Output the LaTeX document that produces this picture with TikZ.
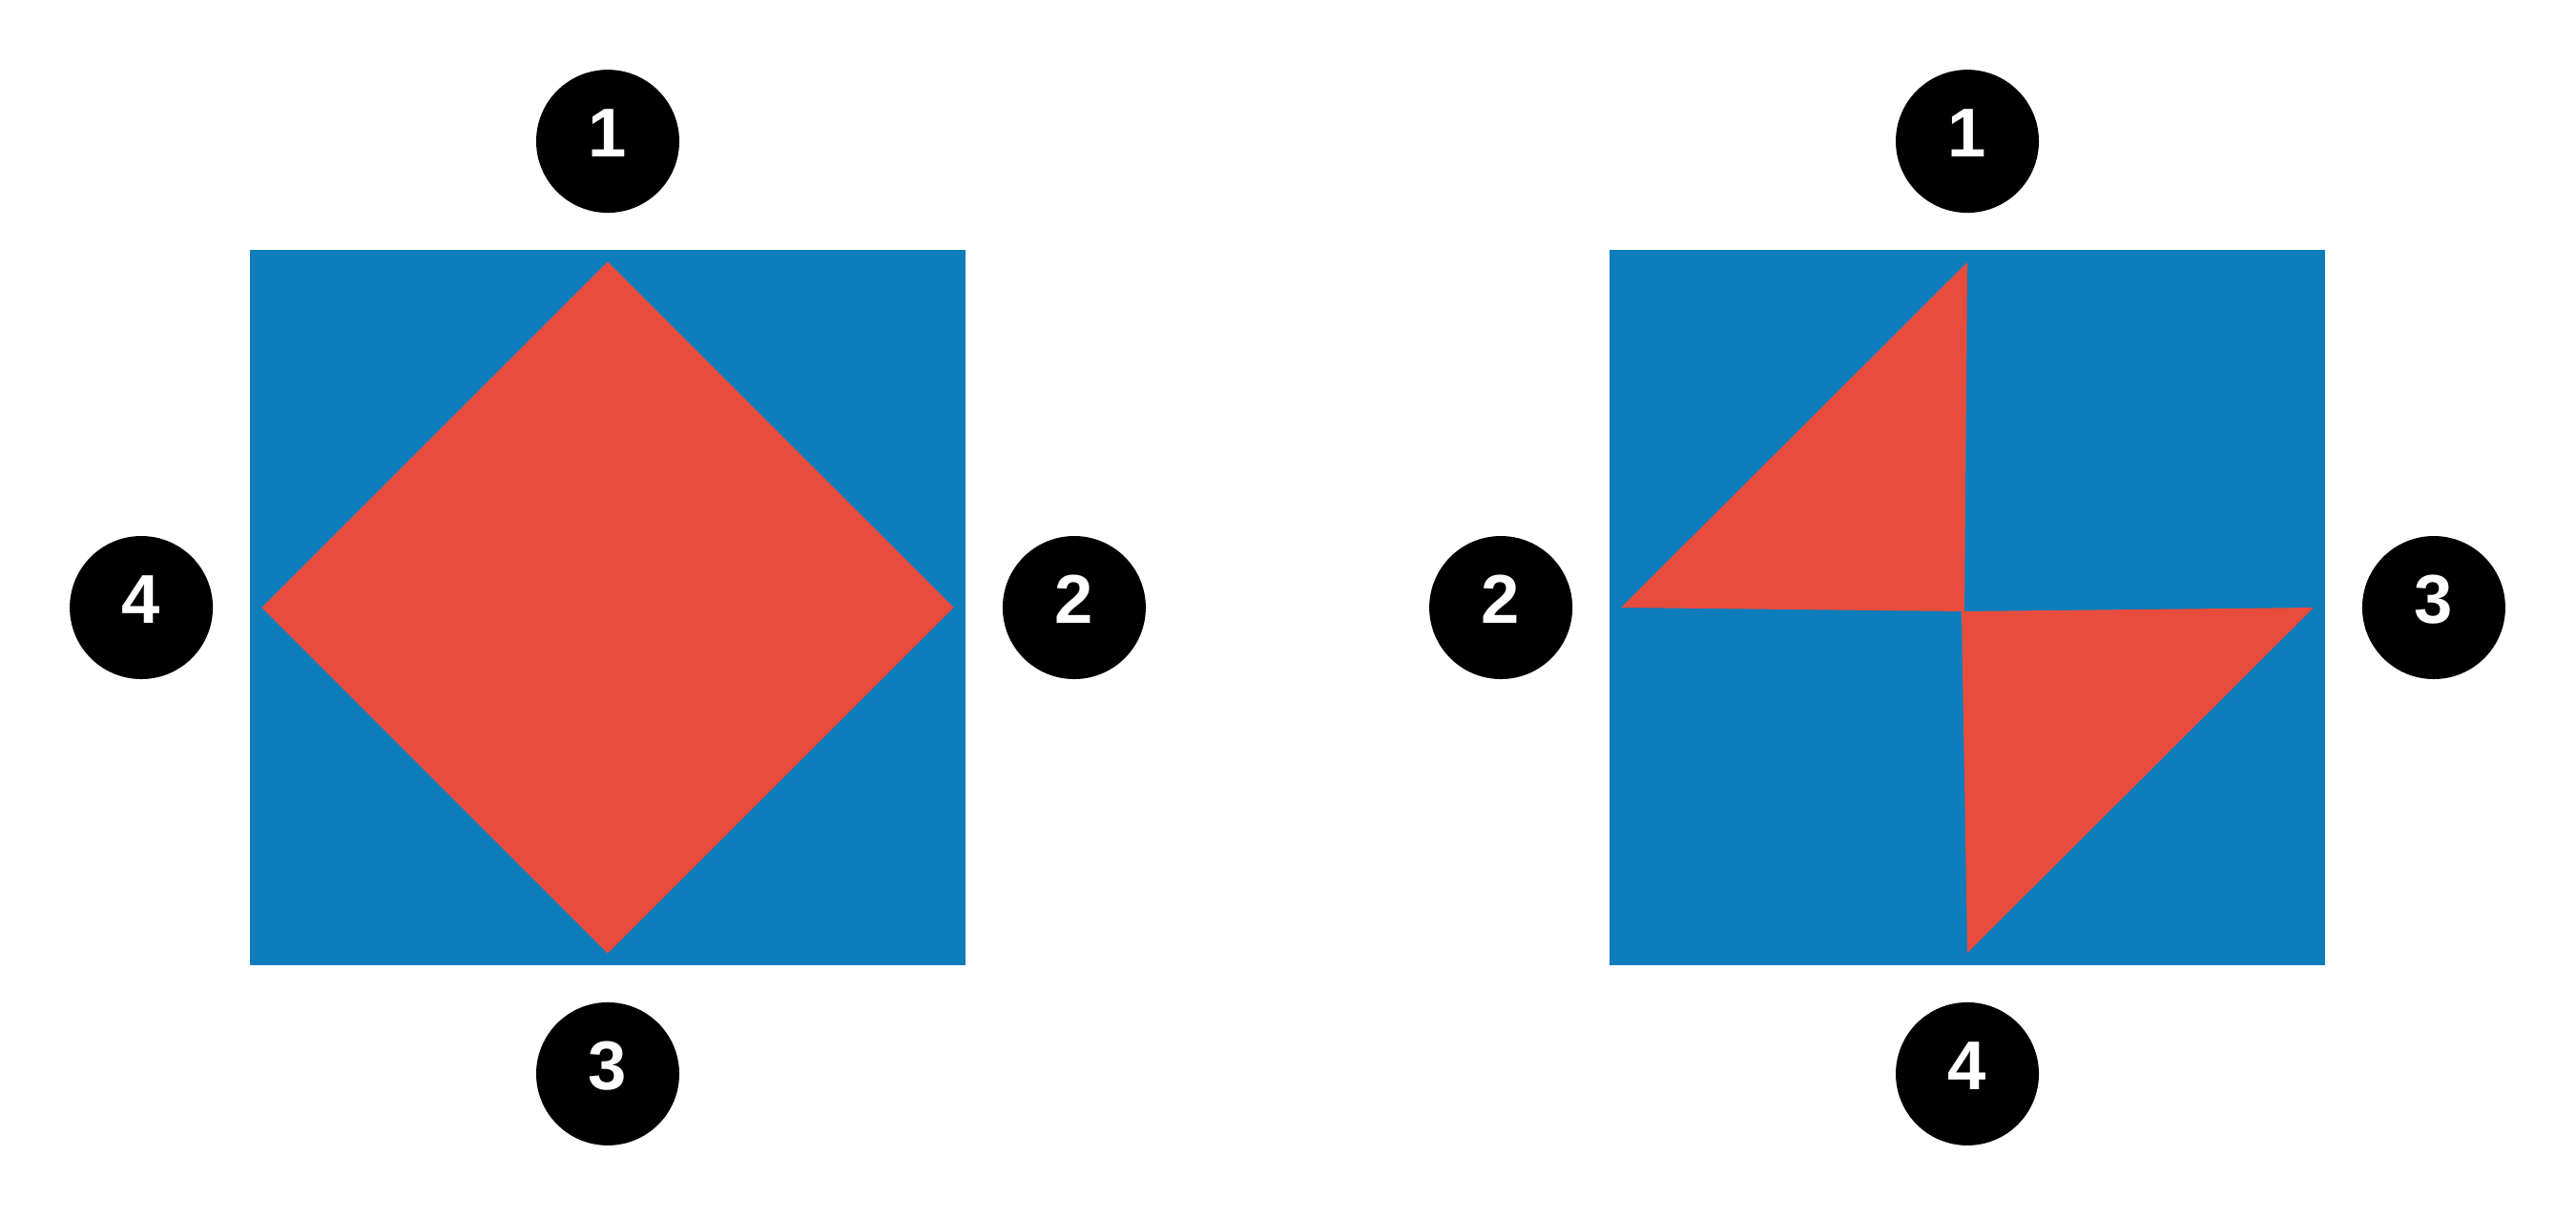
\documentclass[tikz,border=0pt]{standalone}
\usepackage{fontspec}
\setmainfont{Liberation Sans}
\usetikzlibrary{positioning,shapes.geometric}
\definecolor{sqblue}{RGB}{14,125,187}
\definecolor{shred}{RGB}{231,76,60}

\begin{document}
\begin{tikzpicture}[node distance=0.375cm,
        square/.style={rectangle, fill=sqblue, minimum size=7.5cm, inner sep=0pt},
        badge/.style={circle, fill=black, text=white, minimum size=1.5cm, inner sep=0pt,
            font=\fontsize{20.6}{24}\selectfont\bfseries, text height=0.53cm, text depth=0.2cm}]
        \useasboundingbox (0,0) rectangle (27,-12.75);

        % left: square with diamond
        \node[square] (lsq) at (6.37,-6.37) {};
        \node[diamond, fill=shred, minimum width=7.26cm, minimum height=7.26cm, inner sep=0pt] (rhomb) at (lsq) {};
        \node[badge, above=of lsq] (l1) {1};
        \node[badge, right=of lsq] (l2) {2};
        \node[badge, below=of lsq] (l3) {3};
        \node[badge, left=of lsq] (l4) {4};

        % right: square with two triangles
        \node[square] (rsq) at (20.62,-6.37) {};
        \fill[shred] (20.62,-2.75) -- (16.99,-6.37) -- (20.59,-6.41) -- cycle;
        \fill[shred] (20.56,-6.41) -- (24.25,-6.37) -- (20.62,-9.99) -- cycle;
        \node[badge, above=of rsq] (r1) {1};
        \node[badge, left=of rsq] (r2) {2};
        \node[badge, right=of rsq] (r3) {3};
        \node[badge, below=of rsq] (r4) {4};
    \end{tikzpicture}
\end{document}
